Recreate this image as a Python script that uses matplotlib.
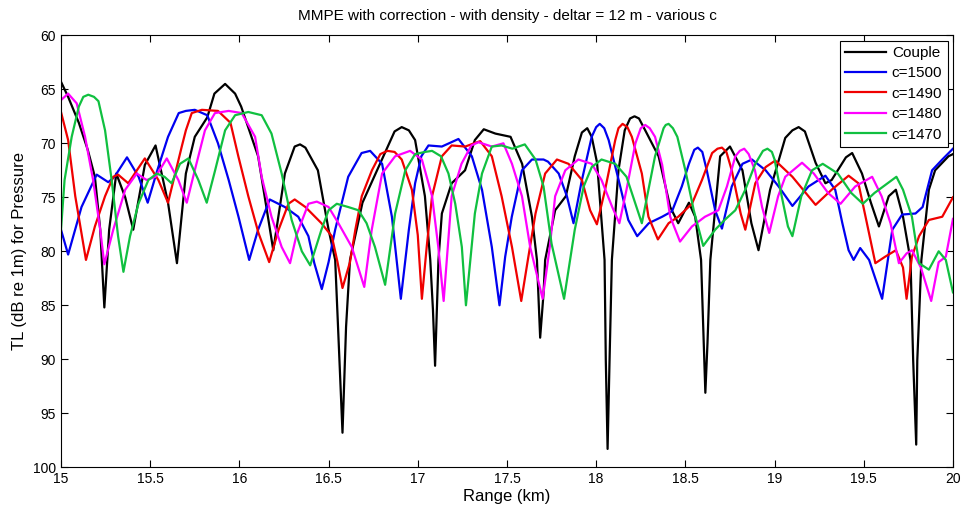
import matplotlib
matplotlib.use("Agg")
import matplotlib.pyplot as plt

plt.rcParams['font.family'] = ['Liberation Sans', 'DejaVu Sans']

# (range km, TL dB) points
couple = [(15.00, 64.3), (15.04, 65.7), (15.10, 68.1), (15.15, 70.6), (15.19, 73.1), (15.22, 78.0),
          (15.243, 85.2), (15.27, 78.0), (15.31, 72.8), (15.36, 75.0), (15.405, 78.0), (15.47, 72.0),
          (15.53, 70.2), (15.60, 75.5), (15.65, 81.1), (15.70, 72.8), (15.75, 69.4), (15.82, 67.6),
          (15.86, 65.4), (15.92, 64.5), (15.976, 65.4), (16.01, 66.6), (16.105, 71.2), (16.16, 76.8),
          (16.19, 79.9), (16.255, 72.8), (16.31, 70.3), (16.34, 70.1), (16.37, 70.4), (16.44, 72.5),
          (16.50, 78.0), (16.537, 80.8), (16.553, 87.0), (16.578, 96.8), (16.598, 87.0), (16.62, 80.8),
          (16.69, 75.5), (16.78, 72.2), (16.87, 68.9), (16.91, 68.5), (16.95, 68.8), (16.985, 69.7),
          (17.04, 74.9), (17.07, 80.8), (17.085, 85.4), (17.097, 90.6), (17.107, 85.4), (17.116, 80.8),
          (17.135, 76.5), (17.19, 73.7), (17.265, 72.5), (17.32, 69.7), (17.37, 68.7), (17.435, 69.1),
          (17.52, 69.4), (17.585, 71.9), (17.64, 76.8), (17.668, 80.8), (17.686, 88.0), (17.705, 83.9),
          (17.714, 80.8), (17.77, 76.2), (17.83, 74.9), (17.88, 71.2), (17.92, 69.0), (17.95, 68.6),
          (17.975, 69.4), (18.005, 71.8), (18.047, 80.8), (18.054, 90.1), (18.064, 98.3), (18.075, 90.1),
          (18.088, 80.8), (18.125, 72.5), (18.16, 68.8), (18.19, 67.7), (18.215, 67.5), (18.24, 67.7),
          (18.275, 68.8), (18.35, 71.2), (18.415, 75.9), (18.46, 77.4), (18.52, 75.5), (18.555, 76.8),
          (18.588, 80.8), (18.603, 88.5), (18.612, 93.1), (18.624, 88.5), (18.64, 80.8), (18.695, 71.2),
          (18.75, 70.3), (18.82, 72.5), (18.87, 77.4), (18.91, 79.9), (18.975, 74.3), (19.06, 69.5),
          (19.10, 68.8), (19.135, 68.5), (19.17, 68.9), (19.23, 71.8), (19.285, 73.7), (19.32, 73.4),
          (19.40, 71.3), (19.435, 70.9), (19.49, 72.8), (19.54, 75.5), (19.585, 77.7), (19.64, 74.9),
          (19.68, 74.3), (19.72, 76.8), (19.762, 80.8), (19.777, 90.1), (19.794, 97.9), (19.80, 90.1),
          (19.823, 80.8), (19.865, 74.3), (19.90, 72.5), (19.975, 71.2), (20.00, 71.0)]

c1500 = [(15.00, 78.0), (15.04, 80.3), (15.115, 75.9), (15.20, 72.9), (15.265, 73.6), (15.30, 73.1),
         (15.37, 71.3), (15.435, 73.1), (15.486, 75.5), (15.54, 72.5), (15.60, 69.4), (15.66, 67.2),
         (15.70, 67.0), (15.75, 66.9), (15.82, 67.4), (15.88, 70.0), (15.94, 73.4), (15.995, 76.8),
         (16.055, 80.8), (16.105, 78.0), (16.17, 75.2), (16.255, 75.9), (16.33, 76.8), (16.387, 78.6),
         (16.42, 81.1), (16.462, 83.5), (16.50, 81.0), (16.537, 78.0), (16.61, 73.1), (16.685, 70.9),
         (16.733, 70.7), (16.80, 71.9), (16.855, 76.8), (16.905, 84.4), (16.95, 78.0), (16.985, 73.7),
         (17.02, 71.2), (17.06, 70.2), (17.135, 70.3), (17.228, 69.6), (17.303, 71.2), (17.36, 74.3),
         (17.415, 79.6), (17.458, 85.0), (17.49, 80.5), (17.527, 76.8), (17.584, 72.5), (17.64, 71.5),
         (17.705, 71.5), (17.73, 71.7), (17.79, 72.8), (17.836, 74.9), (17.873, 77.4), (17.92, 73.4),
         (17.975, 69.4), (18.00, 68.5), (18.02, 68.2), (18.045, 68.6), (18.07, 69.7), (18.126, 73.4),
         (18.18, 77.1), (18.23, 78.6), (18.295, 77.4), (18.37, 76.8), (18.425, 76.3), (18.48, 74.0),
         (18.52, 71.9), (18.55, 70.6), (18.57, 70.4), (18.595, 70.8), (18.62, 72.5), (18.667, 76.2),
         (18.705, 77.9), (18.76, 74.0), (18.82, 71.9), (18.873, 71.5), (18.95, 72.5), (19.023, 74.0),
         (19.10, 75.8), (19.19, 74.0), (19.285, 73.0), (19.34, 74.3), (19.38, 77.4), (19.415, 79.9),
         (19.443, 80.8), (19.48, 79.7), (19.53, 80.8), (19.603, 84.4), (19.66, 78.0), (19.715, 76.6),
         (19.79, 76.5), (19.83, 75.9), (19.883, 72.5), (19.94, 71.5), (20.00, 70.5)]

c1490 = [(15.00, 67.1), (15.04, 69.7), (15.08, 74.9), (15.14, 80.8), (15.19, 77.7), (15.247, 74.9),
         (15.293, 73.1), (15.32, 72.9), (15.377, 73.7), (15.47, 71.4), (15.546, 73.4), (15.60, 75.5),
         (15.677, 70.3), (15.70, 68.8), (15.733, 67.2), (15.79, 66.9), (15.88, 67.0), (15.95, 68.1),
         (15.994, 71.2), (16.05, 74.9), (16.107, 78.3), (16.167, 81.0), (16.22, 78.0), (16.275, 75.6),
         (16.31, 75.2), (16.37, 75.9), (16.46, 77.4), (16.518, 78.6), (16.55, 81.0), (16.578, 83.4),
         (16.62, 81.0), (16.65, 78.0), (16.686, 74.9), (16.743, 72.5), (16.79, 71.0), (16.83, 70.7),
         (16.87, 70.8), (16.91, 71.5), (16.967, 74.3), (17.00, 78.5), (17.023, 84.4), (17.05, 79.6),
         (17.08, 74.9), (17.135, 71.2), (17.19, 70.2), (17.266, 70.3), (17.35, 69.8), (17.415, 71.2),
         (17.47, 74.9), (17.528, 79.6), (17.58, 84.6), (17.62, 80.5), (17.66, 76.5), (17.714, 72.8),
         (17.78, 71.5), (17.845, 71.9), (17.92, 73.4), (17.966, 76.2), (18.004, 77.5), (18.05, 74.3),
         (18.107, 69.7), (18.125, 68.6), (18.148, 68.2), (18.175, 68.5), (18.20, 69.4), (18.256, 72.8),
         (18.293, 76.8), (18.346, 78.9), (18.406, 77.4), (18.46, 76.8), (18.537, 75.6), (18.593, 73.4),
         (18.65, 70.9), (18.68, 70.5), (18.705, 70.4), (18.73, 70.8), (18.76, 72.5), (18.81, 76.5),
         (18.836, 78.0), (18.892, 73.7), (18.95, 72.2), (19.004, 71.6), (19.10, 73.1), (19.23, 75.7),
         (19.32, 74.3), (19.415, 73.0), (19.47, 73.7), (19.51, 76.8), (19.565, 81.1), (19.62, 80.5),
         (19.68, 79.9), (19.72, 81.5), (19.74, 84.4), (19.77, 80.5), (19.81, 78.6), (19.865, 77.1),
         (19.94, 76.8), (20.00, 75.0)]

c1480 = [(15.00, 66.0), (15.04, 65.4), (15.088, 66.3), (15.135, 69.4), (15.18, 73.4), (15.22, 78.0),
         (15.243, 81.2), (15.293, 78.0), (15.36, 74.3), (15.425, 72.8), (15.48, 73.4), (15.53, 73.1),
         (15.593, 71.4), (15.658, 73.4), (15.705, 75.5), (15.75, 72.5), (15.807, 68.8), (15.863, 67.2),
         (15.94, 67.0), (16.013, 67.2), (16.088, 69.4), (16.125, 73.1), (16.18, 76.8), (16.237, 79.6),
         (16.284, 81.1), (16.32, 78.5), (16.387, 75.6), (16.434, 75.4), (16.50, 75.9), (16.555, 77.4),
         (16.63, 79.6), (16.70, 83.3), (16.742, 78.0), (16.80, 72.8), (16.873, 71.2), (16.957, 70.7),
         (17.023, 71.5), (17.04, 72.5), (17.08, 74.9), (17.115, 79.6), (17.145, 84.6), (17.19, 74.9),
         (17.245, 71.9), (17.30, 70.2), (17.34, 69.9), (17.415, 70.3), (17.48, 70.0), (17.528, 71.9),
         (17.584, 74.9), (17.63, 79.6), (17.70, 84.4), (17.74, 79.6), (17.77, 74.9), (17.827, 72.5),
         (17.90, 71.5), (17.975, 71.9), (18.03, 73.4), (18.09, 75.9), (18.13, 77.4), (18.17, 74.3),
         (18.22, 70.0), (18.25, 68.6), (18.275, 68.3), (18.30, 68.6), (18.33, 69.4), (18.37, 72.0),
         (18.415, 76.8), (18.47, 79.1), (18.537, 77.7), (18.61, 76.8), (18.685, 76.2), (18.733, 74.0),
         (18.78, 71.2), (18.805, 70.7), (18.83, 70.5), (18.855, 71.0), (18.89, 72.5), (18.93, 75.9),
         (18.97, 78.3), (19.02, 74.9), (19.06, 73.1), (19.154, 71.8), (19.22, 72.8), (19.30, 74.6),
         (19.37, 75.6), (19.452, 74.0), (19.547, 73.1), (19.60, 74.9), (19.65, 77.4), (19.697, 81.1),
         (19.74, 80.2), (19.77, 79.9), (19.82, 81.5), (19.878, 84.6), (19.92, 81.0), (19.96, 80.5),
         (20.00, 77.0)]

c1470 = [(15.00, 78.0), (15.02, 73.4), (15.06, 69.4), (15.10, 66.6), (15.125, 65.7), (15.153, 65.5),
         (15.185, 65.7), (15.21, 66.1), (15.247, 68.8), (15.284, 73.4), (15.32, 78.6), (15.35, 81.9),
         (15.387, 78.6), (15.434, 75.6), (15.49, 73.4), (15.537, 72.8), (15.58, 73.1), (15.62, 73.7),
         (15.667, 71.9), (15.714, 71.4), (15.77, 73.4), (15.817, 75.5), (15.864, 72.5), (15.92, 68.8),
         (15.976, 67.4), (16.05, 67.1), (16.125, 67.4), (16.18, 69.1), (16.237, 72.8), (16.293, 77.1),
         (16.35, 80.0), (16.397, 81.3), (16.46, 78.0), (16.50, 76.2), (16.546, 75.6), (16.61, 75.9),
         (16.667, 76.2), (16.713, 77.4), (16.76, 79.6), (16.817, 83.1), (16.873, 76.5), (16.93, 72.5),
         (16.985, 71.0), (17.04, 70.8), (17.08, 70.7), (17.13, 71.2), (17.172, 72.8), (17.21, 75.6),
         (17.247, 79.6), (17.27, 85.0), (17.32, 76.5), (17.36, 72.8), (17.415, 70.3), (17.47, 70.2),
         (17.53, 70.5), (17.60, 70.1), (17.66, 71.5), (17.705, 74.0), (17.75, 79.3), (17.82, 84.4),
         (17.88, 78.0), (17.93, 74.0), (17.975, 72.2), (18.03, 71.5), (18.107, 71.9), (18.17, 73.1),
         (18.22, 75.6), (18.256, 77.4), (18.293, 74.3), (18.33, 71.2), (18.378, 68.6), (18.39, 68.3),
         (18.406, 68.2), (18.43, 68.6), (18.455, 69.4), (18.50, 72.5), (18.547, 76.2), (18.60, 79.5),
         (18.667, 78.0), (18.72, 77.1), (18.78, 76.2), (18.836, 74.3), (18.892, 71.9), (18.935, 70.7),
         (18.96, 70.5), (18.985, 70.8), (19.00, 71.5), (19.04, 74.9), (19.075, 77.7), (19.10, 78.6),
         (19.15, 74.9), (19.21, 72.5), (19.27, 71.9), (19.355, 72.8), (19.43, 74.6), (19.495, 75.6),
         (19.56, 74.6), (19.683, 73.1), (19.72, 74.3), (19.77, 76.8), (19.81, 81.1), (19.865, 81.7),
         (19.92, 80.0), (19.96, 80.8), (20.00, 83.8)]

labels = ["Couple", "c=1500", "c=1490", "c=1480", "c=1470"]
colors = ["black", "#0000f0", "#f00000", "#ff00ff", "#10c040"]
x_ticks = [15, 15.5, 16, 16.5, 17, 17.5, 18, 18.5, 19, 19.5, 20]
x_tick_labels = ["15", "15.5", "16", "16.5", "17", "17.5", "18", "18.5", "19", "19.5", "20"]
y_ticks = [60, 65, 70, 75, 80, 85, 90, 95, 100]

fig = plt.figure(figsize=(9.62, 5.14), dpi=100)
ax = fig.add_axes([0.0634, 0.0909, 0.9272, 0.8404])

for pts, lab, col in zip([couple, c1500, c1490, c1480, c1470], labels, colors):
    xs = [p[0] for p in pts]
    ys = [p[1] for p in pts]
    ax.plot(xs, ys, color=col, lw=1.6, label=lab)

ax.set_xlim(15, 20)
ax.set_ylim(100, 60)
ax.set_xticks(x_ticks)
ax.set_xticklabels(x_tick_labels)
ax.set_yticks(y_ticks)
ax.tick_params(direction="in", length=5, labelsize=10, top=True, right=True)

ax.set_title("MMPE with correction - with density - deltar = 12 m - various c", fontsize=11, pad=11)
ax.set_xlabel("Range (km)", fontsize=12, labelpad=2)
ax.set_ylabel("TL (dB re 1m) for Pressure", fontsize=12, labelpad=4)

leg = ax.legend(loc="upper right", fontsize=11, fancybox=False, framealpha=1,
                edgecolor="black", borderaxespad=0.35, handlelength=2.7, handletextpad=0.35,
                labelspacing=0.42, borderpad=0.35)
leg.get_frame().set_linewidth(0.8)

fig.savefig("out.png", dpi=100)
